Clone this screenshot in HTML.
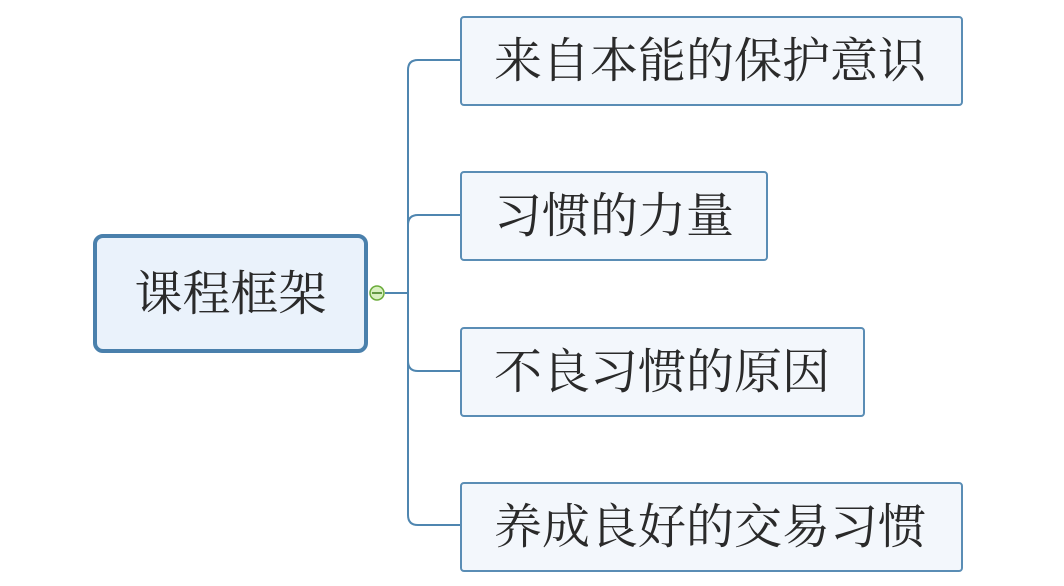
<!DOCTYPE html>
<html><head><meta charset="utf-8"><style>
body{margin:0;width:1064px;height:586px;background:#fff;position:relative;overflow:hidden;font-family:"Noto Serif CJK SC","Liberation Serif",serif;color:#2a2a2a}
.c{position:absolute;left:93px;top:234px;width:267px;height:111px;border:4px solid #4a80ac;border-radius:10px;background:#eaf2fb;font-size:48px;line-height:103px;text-align:center}
.b{position:absolute;left:460px;height:86px;border:2px solid #5a8db5;border-radius:4px;background:#f3f7fc;font-size:48px;line-height:78px;padding-left:32px;box-sizing:content-box;white-space:nowrap;overflow:hidden}
</style></head><body>
<svg width="1064" height="586" style="position:absolute;left:0;top:0">
<g fill="none" stroke="#4f86b0" stroke-width="2">
<path d="M385 293 H408"/>
<path d="M460 60 H418 Q408 60 408 70 V515 Q408 525 418 525 H460"/>
<path d="M460 215 H418 Q408 215 408 225"/>
<path d="M460 371 H418 Q408 371 408 361"/>
</g>
<circle cx="377" cy="293" r="7" fill="#d8f0c0" stroke="#6aab3a" stroke-width="1.5"/>
<path d="M372 293 H382" stroke="#3a7a1a" stroke-width="1.5"/>
</svg>
<div class="c">课程框架</div>
<div class="b" style="top:16px;width:467px">来自本能的保护意识</div>
<div class="b" style="top:171px;width:272px">习惯的力量</div>
<div class="b" style="top:327px;width:369px">不良习惯的原因</div>
<div class="b" style="top:482px;width:467px">养成良好的交易习惯</div>
</body></html>
